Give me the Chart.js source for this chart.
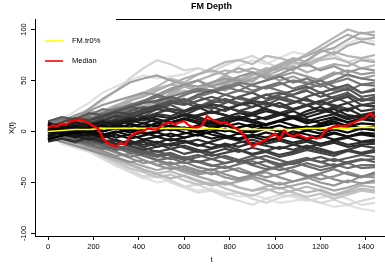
<!DOCTYPE html>
<html>
<head>
<meta charset="utf-8">
<script src="https://cdn.jsdelivr.net/npm/chart.js@4.4.0/dist/chart.umd.min.js"></script>
<style>
  html, body { margin: 0; padding: 0; background: #fff; overflow: hidden; width: 385px; height: 271px; }
  #wrap { width: 395px; height: 271px; }
</style>
</head>
<body>
<div id="wrap"><canvas id="chart" width="395" height="271"></canvas></div>
<script>
// sampling times
const tGrid = [0,60,120,180,240,300,360,420,480,540,600,660,720,780,840,900,960,1020,1080,1140,1200,1260,1320,1380,1440];
const tFine = [0,20,40,60,80,100,120,140,160,180,200,220,240,260,280,300,320,340,360,380,400,420,440,460,480,500,520,540,560,580,600,620,640,660,680,700,720,740,760,780,800,820,840,860,880,900,920,940,960,980,1000,1020,1040,1060,1080,1100,1120,1140,1160,1180,1200,1220,1240,1260,1280,1300,1320,1340,1360,1380,1400,1420,1440];

const xTicks = [0,200,400,600,800,1000,1200,1400];
const yTicks = [-100,-50,0,50,100];

// simulated paths
const walk01 = [4,5,9,6,14,20,18,25,31,28,35,42,40,46,52,49,58,63,60,70,78,82,90,97,94];
const walk02 = [-2,-3,4,10,16,12,22,30,27,38,45,41,48,52,47,55,60,66,72,68,80,88,95,90,92];
const walk03 = [7,12,20,28,38,44,50,55,52,54,56,62,58,55,64,70,66,72,78,75,82,80,86,92,88];
const walk04 = [1,3,8,15,11,19,26,22,30,36,44,40,47,55,50,58,56,64,70,74,80,76,84,88,85];
const walk05 = [5,10,16,22,30,40,52,62,70,66,60,62,58,65,70,74,68,62,65,70,72,75,68,72,70];
const walk06 = [-1,2,8,14,20,25,32,38,44,52,48,56,62,68,70,66,74,72,68,64,70,72,68,62,65];
const walk07 = [3,5,3,10,18,24,20,28,34,40,46,50,44,48,54,58,52,56,62,66,60,64,58,62,60];
const walk08 = [6,4,12,22,32,40,48,52,55,50,46,50,44,40,46,52,56,50,54,48,52,58,55,52,55];
const walk09 = [-4,4,9,5,12,16,22,18,26,30,28,34,38,44,40,46,50,54,48,52,46,50,56,52,50];
const walk10 = [2,3,8,14,10,18,24,30,36,32,28,34,30,36,40,38,44,48,42,46,50,44,40,46,45];
const walk11 = [-6,-4,2,8,6,12,18,15,22,26,20,24,30,28,34,38,32,36,40,44,38,42,46,38,40];
const walk12 = [8,2,6,11,16,14,20,24,22,28,32,26,22,28,34,30,26,32,36,40,34,38,42,34,36];
const walk13 = [0,6,10,8,14,20,24,28,30,34,30,36,40,36,32,30,36,38,34,30,28,34,38,30,32];
const walk14 = [-3,-2,3,7,12,10,16,14,18,22,20,26,24,20,26,30,28,24,28,32,26,30,34,26,28];
const walk15 = [5,3,1,6,10,15,12,18,22,20,16,22,26,24,20,18,24,28,22,26,30,24,20,26,25];
const walk16 = [-7,1,5,9,7,12,8,13,17,15,20,24,18,22,26,28,22,18,22,26,20,24,28,20,22];
const walk17 = [2,-3,0,4,8,6,10,14,12,8,12,16,20,16,12,18,22,18,14,20,24,18,22,16,19];
const walk18 = [9,2,-1,3,6,10,8,4,8,12,16,14,10,14,18,16,12,16,20,14,18,22,16,14,16];
const walk19 = [-2,4,7,5,9,6,10,13,9,12,16,12,8,12,15,11,14,18,14,10,14,17,12,15,13];
const walk20 = [4,-1,2,-2,3,6,4,8,5,9,12,8,4,8,12,9,6,10,13,8,11,14,9,12,10];
const walk21 = [-5,3,5,2,6,3,7,4,8,5,2,6,9,5,8,4,7,10,6,3,7,10,5,8,7];
const walk22 = [7,-2,1,4,0,3,-1,2,5,1,4,0,3,6,2,-1,3,6,2,5,1,4,7,3,4];
const walk23 = [-1,1,-2,0,-4,-1,2,-2,0,3,-1,-4,0,2,-2,1,4,0,-3,1,-2,2,-1,3,1];
const walk24 = [3,-3,-5,-2,-6,-3,-7,-4,-1,-5,-2,1,-3,-6,-2,-5,-1,-4,0,-3,-6,-2,-5,-1,-2];
const walk25 = [-8,2,-1,-4,-2,-6,-3,-8,-5,-9,-6,-3,-7,-4,-8,-5,-9,-6,-3,-7,-4,-8,-5,-3,-5];
const walk26 = [1,-2,-5,-8,-4,-9,-12,-8,-11,-7,-10,-14,-10,-6,-9,-13,-10,-7,-11,-8,-12,-9,-6,-10,-8];
const walk27 = [6,1,-3,-6,-10,-8,-13,-10,-15,-12,-9,-13,-16,-12,-15,-11,-14,-17,-13,-10,-14,-11,-15,-13,-12];
const walk28 = [-4,-4,-2,-7,-11,-9,-14,-18,-15,-12,-16,-20,-17,-14,-18,-22,-19,-15,-18,-14,-17,-21,-18,-14,-16];
const walk29 = [2,-2,-6,-4,-9,-13,-11,-16,-20,-17,-22,-19,-24,-21,-18,-23,-20,-25,-22,-18,-21,-24,-19,-22,-20];
const walk30 = [-9,-3,-7,-11,-9,-14,-18,-22,-19,-24,-28,-25,-22,-26,-30,-27,-24,-28,-32,-28,-25,-29,-26,-23,-25];
const walk31 = [5,2,-3,-8,-12,-16,-14,-19,-23,-21,-26,-30,-27,-24,-28,-32,-29,-34,-31,-27,-30,-34,-30,-27,-30];
const walk32 = [-2,-5,-9,-13,-11,-16,-21,-18,-23,-27,-25,-30,-34,-31,-28,-33,-37,-34,-30,-34,-38,-35,-31,-36,-35];
const walk33 = [3,-4,-8,-12,-16,-20,-25,-22,-28,-32,-30,-35,-38,-34,-39,-42,-38,-35,-40,-44,-41,-37,-42,-45,-40];
const walk34 = [-6,-6,-10,-15,-19,-24,-22,-28,-33,-30,-36,-40,-37,-42,-46,-43,-40,-45,-49,-46,-42,-47,-50,-44,-45];
const walk35 = [0,-3,-9,-14,-20,-25,-30,-34,-38,-35,-40,-44,-48,-52,-49,-46,-52,-56,-53,-50,-54,-58,-55,-51,-50];
const walk36 = [4,-5,-11,-17,-22,-28,-33,-38,-42,-46,-43,-48,-52,-49,-55,-58,-54,-50,-56,-60,-57,-62,-58,-53,-55];
const walk37 = [-3,-4,-10,-16,-24,-30,-36,-40,-45,-42,-48,-52,-50,-56,-60,-63,-58,-55,-60,-64,-61,-66,-62,-58,-60];
const walk38 = [2,-9,-14,-18,-25,-32,-38,-44,-42,-48,-54,-52,-58,-62,-60,-66,-70,-65,-62,-66,-70,-67,-72,-68,-65];
const walk39 = [-5,-10,-15,-19,-26,-33,-40,-46,-44,-50,-55,-60,-58,-64,-68,-72,-66,-62,-64,-68,-65,-62,-66,-72,-70];
const walk40 = [1,-12,-16,-20,-27,-34,-39,-45,-50,-48,-54,-58,-56,-60,-64,-62,-66,-70,-68,-66,-70,-74,-72,-76,-78];
const walk41 = [2,6,3,10,16,22,28,24,30,36,40,38,45,50,48,56,62,60,68,76,84,92,100,96,98];
const walk42 = [-2,4,10,14,20,26,30,36,42,46,44,50,55,60,58,62,58,64,68,66,72,78,74,72,75];
const walk43 = [4,8,14,20,18,24,30,34,40,46,52,56,60,56,62,58,54,60,64,58,62,66,64,70,68];
const walk44 = [6,10,16,20,26,30,34,38,36,42,46,44,48,52,50,46,50,54,58,54,50,56,60,56,58];
const walk45 = [-4,2,8,12,18,22,26,30,28,34,38,42,40,44,48,45,42,46,50,47,44,48,52,46,48];
const walk46 = [8,12,10,16,22,20,26,30,34,30,36,40,38,42,46,40,44,40,36,42,46,40,44,38,42];
const walk47 = [-6,0,4,8,12,16,14,20,24,28,26,30,34,30,26,32,36,32,28,34,38,32,36,30,34];
const walk48 = [10,14,12,18,16,20,24,22,26,30,28,24,28,32,28,24,30,34,30,26,30,34,28,32,30];
const walk49 = [5,9,13,11,15,19,17,21,25,22,19,23,27,24,20,24,28,25,21,25,29,26,22,26,24];
const walk50 = [-5,-1,3,7,5,9,13,11,15,13,17,15,19,16,12,16,20,17,13,17,21,18,14,16,18];
const walk51 = [8,5,9,6,10,7,11,8,12,9,13,10,6,10,14,11,7,11,15,12,8,12,9,13,11];
const walk52 = [-8,-4,-1,3,0,4,1,5,2,6,3,-1,3,0,4,7,3,0,4,1,5,8,4,2,5];
const walk53 = [6,2,-2,1,-3,0,-4,-1,-5,-2,-6,-3,0,-4,-7,-3,-6,-2,-5,-8,-4,-1,-5,-2,-4];
const walk54 = [-10,-7,-10,-6,-9,-12,-9,-13,-10,-14,-11,-8,-12,-15,-11,-8,-12,-9,-13,-16,-12,-9,-13,-11,-10];
const walk55 = [3,-1,-5,-3,-8,-12,-10,-15,-12,-17,-14,-18,-21,-17,-20,-16,-19,-23,-20,-16,-19,-22,-18,-21,-18];
const walk56 = [-3,-7,-11,-9,-14,-18,-16,-21,-25,-22,-26,-23,-27,-31,-28,-24,-28,-32,-29,-26,-30,-27,-31,-28,-27];
const walk57 = [1,-4,-8,-13,-17,-15,-20,-24,-28,-26,-31,-29,-33,-36,-32,-29,-34,-38,-35,-31,-35,-32,-36,-33,-33];
const walk58 = [-6,-10,-14,-18,-22,-26,-30,-28,-33,-37,-34,-38,-42,-39,-36,-41,-45,-42,-38,-43,-47,-44,-40,-44,-42];
const walk59 = [4,-2,-7,-12,-16,-21,-26,-31,-29,-34,-38,-42,-40,-45,-48,-44,-48,-52,-49,-45,-50,-53,-48,-51,-48];
const walk60 = [-1,-7,-12,-18,-23,-28,-32,-37,-41,-39,-44,-49,-53,-50,-55,-58,-56,-61,-58,-54,-58,-63,-60,-56,-58];

const walks = [walk01,walk02,walk03,walk04,walk05,walk06,walk07,walk08,walk09,walk10,
  walk11,walk12,walk13,walk14,walk15,walk16,walk17,walk18,walk19,walk20,
  walk21,walk22,walk23,walk24,walk25,walk26,walk27,walk28,walk29,walk30,
  walk31,walk32,walk33,walk34,walk35,walk36,walk37,walk38,walk39,walk40,
  walk41,walk42,walk43,walk44,walk45,walk46,walk47,walk48,walk49,walk50,
  walk51,walk52,walk53,walk54,walk55,walk56,walk57,walk58,walk59,walk60];

// FM trimmed mean (0%) and median curve
const trimMean = [0,1,2,2,3,3,3,3,3,3,3,2,3,2,2,2,2,2,2,3,3,3,3,4,4];
const medianCurve = [4,6,5,8,7,10,11,12,10,8,5,3,-6,-11,-13,-15,-11,-13,-5,-2,
  0,0,3,2,2,6,8,9,7,9,10,6,4,4,6,15,12,10,8,9,
  7,4,1,-3,-9,-15,-12,-10,-8,-5,-2,-8,1,-3,-5,-3,-5,-7,-5,-7,
  -6,1,3,5,6,5,6,8,10,12,14,18,14];

const legendLabels = ['FM.tr0%', 'Median'];

const FONT = '"Liberation Sans", Arial, Helvetica, sans-serif';

const toPts = (ts, vs) => vs.map((v, k) => ({ x: ts[k], y: v }));
const avg = a => a.reduce((s, v) => s + v, 0) / a.length;

// shade by depth: curves near the median dark, outlying curves light
const mid = avg(medianCurve);
const means = walks.map(avg);
const hi = Math.max(...means), lo = Math.min(...means);

const datasets = walks.map((w, i) => {
  const m = means[i];
  const d = m >= mid ? (m - mid) / (hi - mid) : (mid - m) / (mid - lo);
  const g = Math.round(225 * Math.pow(d, 1.1));
  return {
    data: toPts(tGrid, w),
    borderColor: `rgb(${g},${g},${g})`,
    borderWidth: 2.2,
    order: 10 + Math.round(d * 100)
  };
});
datasets.push({ data: toPts(tGrid, trimMean), borderColor: '#ffff00', borderWidth: 1.6, order: 1 });
datasets.push({ data: toPts(tFine, medianCurve), borderColor: '#ff0000', borderWidth: 2.2, order: 0 });

const decor = {
  id: 'decor',
  afterDraw(chart) {
    const ctx = chart.ctx;
    const a = chart.chartArea;
    const ys = chart.scales.y;
    ctx.save();
    // top of frame
    ctx.strokeStyle = '#000';
    ctx.lineWidth = 1;
    ctx.beginPath();
    ctx.moveTo(a.left, a.top + 0.5);
    ctx.lineTo(a.right, a.top + 0.5);
    ctx.stroke();
    // legend box
    ctx.fillStyle = '#fff';
    ctx.fillRect(a.left + 1, a.top - 2, 80, 60);
    const items = [['#ffff00', 41], ['#ff0000', 61]];
    ctx.font = '7.5px ' + FONT;
    ctx.textBaseline = 'middle';
    ctx.textAlign = 'left';
    items.forEach((it, k) => {
      ctx.strokeStyle = it[0];
      ctx.lineWidth = 1.6;
      ctx.beginPath();
      ctx.moveTo(45, it[1]);
      ctx.lineTo(63, it[1]);
      ctx.stroke();
      ctx.fillStyle = '#000';
      ctx.fillText(legendLabels[k], 72, it[1]);
    });
    // y tick labels, rotated like R
    ctx.fillStyle = '#000';
    ctx.textAlign = 'center';
    yTicks.forEach(v => {
      const y = ys.getPixelForValue(v);
      ctx.save();
      ctx.translate(24, y);
      ctx.rotate(-Math.PI / 2);
      ctx.fillText(String(v), 0, 0);
      ctx.restore();
    });
    // axis titles
    ctx.fillText('t', (a.left + a.right) / 2, 260);
    ctx.save();
    ctx.translate(12, 128);
    ctx.rotate(-Math.PI / 2);
    ctx.fillText('X(t)', 0, 0);
    ctx.restore();
    // main title
    ctx.font = 'bold 9px ' + FONT;
    ctx.fillText('FM Depth', (a.left + a.right) / 2, 7);
    ctx.restore();
  }
};

new Chart(document.getElementById('chart'), {
  type: 'line',
  data: { datasets },
  options: {
    responsive: false,
    animation: false,
    devicePixelRatio: 1,
    parsing: false,
    layout: { padding: { top: 19, right: 7, left: 0, bottom: 0 } },
    elements: { point: { radius: 0 }, line: { tension: 0 } },
    plugins: { legend: { display: false }, tooltip: { enabled: false }, title: { display: false } },
    scales: {
      x: {
        type: 'linear', min: -57.6, max: 1497.6,
        afterBuildTicks: s => { s.ticks = xTicks.map(v => ({ value: v })); },
        ticks: { font: { family: FONT, size: 7.5 }, color: '#000', padding: 2, maxRotation: 0, autoSkip: false,
          callback: v => String(v) },
        grid: { drawOnChartArea: false, drawTicks: true, tickLength: 4, color: '#000' },
        border: { display: true, color: '#000', width: 1 },
        afterFit: s => { s.height = 35; }
      },
      y: {
        type: 'linear', min: -102.5, max: 110.3,
        afterBuildTicks: s => { s.ticks = yTicks.map(v => ({ value: v })); },
        ticks: { display: false },
        grid: { drawOnChartArea: false, drawTicks: true, tickLength: 4, color: '#000' },
        border: { display: true, color: '#000', width: 1 },
        afterFit: s => { s.width = 35; }
      }
    }
  },
  plugins: [decor]
});
</script>
</body>
</html>
